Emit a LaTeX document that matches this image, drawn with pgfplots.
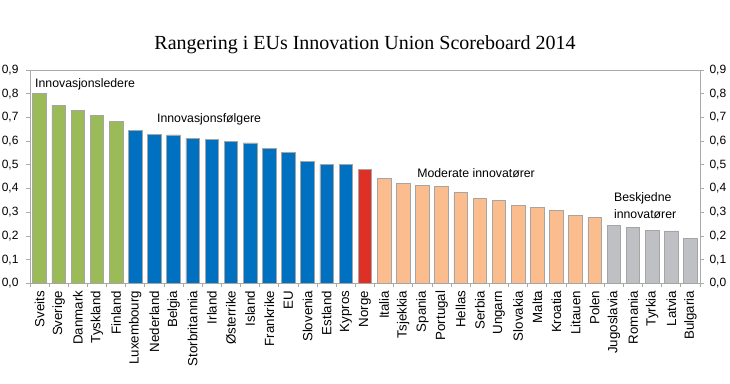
\documentclass[border=0pt]{standalone}
\usepackage{pgfplots}
\pgfplotsset{compat=1.18}
\usepackage{fontspec}
\setmainfont{Liberation Sans}
\newfontfamily\titlefont{Liberation Serif}
\definecolor{cgreen}{RGB}{155,187,89}
\definecolor{cblue}{RGB}{0,112,192}
\definecolor{cred}{RGB}{222,48,38}
\definecolor{csalmon}{RGB}{251,189,141}
\definecolor{cgray}{RGB}{190,192,196}
\definecolor{barline}{RGB}{165,165,165}
\definecolor{axline}{RGB}{170,170,170}
\begin{document}
\begin{tikzpicture}[x=1pt,y=1pt]
\useasboundingbox (0,0) rectangle (730,383);
\node[font=\titlefont\fontsize{20}{24}\selectfont] at (365,338) {Rangering i EUs Innovation Union Scoreboard 2014};
\begin{axis}[
  at={(30pt,99.7pt)}, anchor=south west,
  scale only axis, width=670pt, height=213.3pt,
  xmin=-0.5, xmax=34.5, ymin=0, ymax=0.9,
  clip=false,
  axis line style={draw=axline, line width=0.8pt},
  tick align=outside,
  major tick length=4pt, minor tick length=4pt,
  xtick={0,...,34},
  xticklabels={Sveits,Sverige,Danmark,Tyskland,Finland,Luxembourg,Nederland,Belgia,Storbritannia,Irland,Østerrike,Island,Frankrike,EU,Slovenia,Estland,Kypros,Norge,Italia,Tsjekkia,Spania,Portugal,Hellas,Serbia,Ungarn,Slovakia,Malta,Kroatia,Litauen,Polen,Jugoslavia,Romania,Tyrkia,Latvia,Bulgaria},
  major x tick style={draw=none},
  minor xtick={-0.5,0.5,...,34.5},
  minor x tick style={draw=axline, line width=0.8pt},
  xtick pos=left,
  xticklabel style={rotate=90, anchor=east, font=\fontsize{13.3}{15}\selectfont},
  ytick={0,0.1,0.2,0.3,0.4,0.5,0.6,0.7,0.8,0.9},
  ytick pos=both,
  yticklabel pos=left,
  y tick style={draw=axline, line width=0.8pt},
  yticklabel style={font=\fontsize{12}{14}\selectfont, xshift=-4pt},
  /pgf/number format/.cd, use comma, fixed, fixed zerofill, precision=1, assume math mode=true,
]
\addplot[ybar, bar width=0.71, bar shift=0pt, fill=cgreen, draw=barline, line width=0.7pt] coordinates {
(0,0.800) (1,0.751) (2,0.728) (3,0.709) (4,0.683)};
\addplot[ybar, bar width=0.71, bar shift=0pt, fill=cblue, draw=barline, line width=0.7pt] coordinates {
(5,0.645) (6,0.629) (7,0.626) (8,0.612) (9,0.606) (10,0.599) (11,0.592) (12,0.570) (13,0.554) (14,0.513) (15,0.502) (16,0.500)};
\addplot[ybar, bar width=0.71, bar shift=0pt, fill=cred, draw=barline, line width=0.7pt] coordinates {
(17,0.479)};
\addplot[ybar, bar width=0.71, bar shift=0pt, fill=csalmon, draw=barline, line width=0.7pt] coordinates {
(18,0.443) (19,0.421) (20,0.414) (21,0.409) (22,0.384) (23,0.359) (24,0.351) (25,0.328) (26,0.320) (27,0.306) (28,0.287) (29,0.279)};
\addplot[ybar, bar width=0.71, bar shift=0pt, fill=cgray, draw=barline, line width=0.7pt] coordinates {
(30,0.245) (31,0.237) (32,0.224) (33,0.221) (34,0.188)};
\node[anchor=west, font=\fontsize{12.3}{14}\selectfont, inner sep=0pt] at (axis cs:-0.24,0.841) {Innovasjonsledere};
\node[anchor=west, font=\fontsize{12.3}{14}\selectfont, inner sep=0pt] at (axis cs:6.13,0.693) {Innovasjonsfølgere};
\node[anchor=west, font=\fontsize{12.3}{14}\selectfont, inner sep=0pt] at (axis cs:19.72,0.465) {Moderate innovatører};
\node[anchor=west, align=left, font=\fontsize{12.3}{17}\selectfont, inner sep=0pt] at (axis cs:30.0,0.328) {Beskjedne\\innovatører};
\end{axis}
\begin{axis}[
  at={(30pt,99.7pt)}, anchor=south west,
  scale only axis, width=670pt, height=213.3pt,
  xmin=-0.5, xmax=34.5, ymin=0, ymax=0.9,
  hide x axis,
  axis y line*=right,
  y axis line style={draw=none},
  tick align=outside,
  major tick length=4pt,
  ytick={0,0.1,0.2,0.3,0.4,0.5,0.6,0.7,0.8,0.9},
  y tick style={draw=none},
  yticklabel style={font=\fontsize{12}{14}\selectfont, xshift=2pt},
  /pgf/number format/.cd, use comma, fixed, fixed zerofill, precision=1, assume math mode=true,
]
\end{axis}
\end{tikzpicture}
\end{document}
